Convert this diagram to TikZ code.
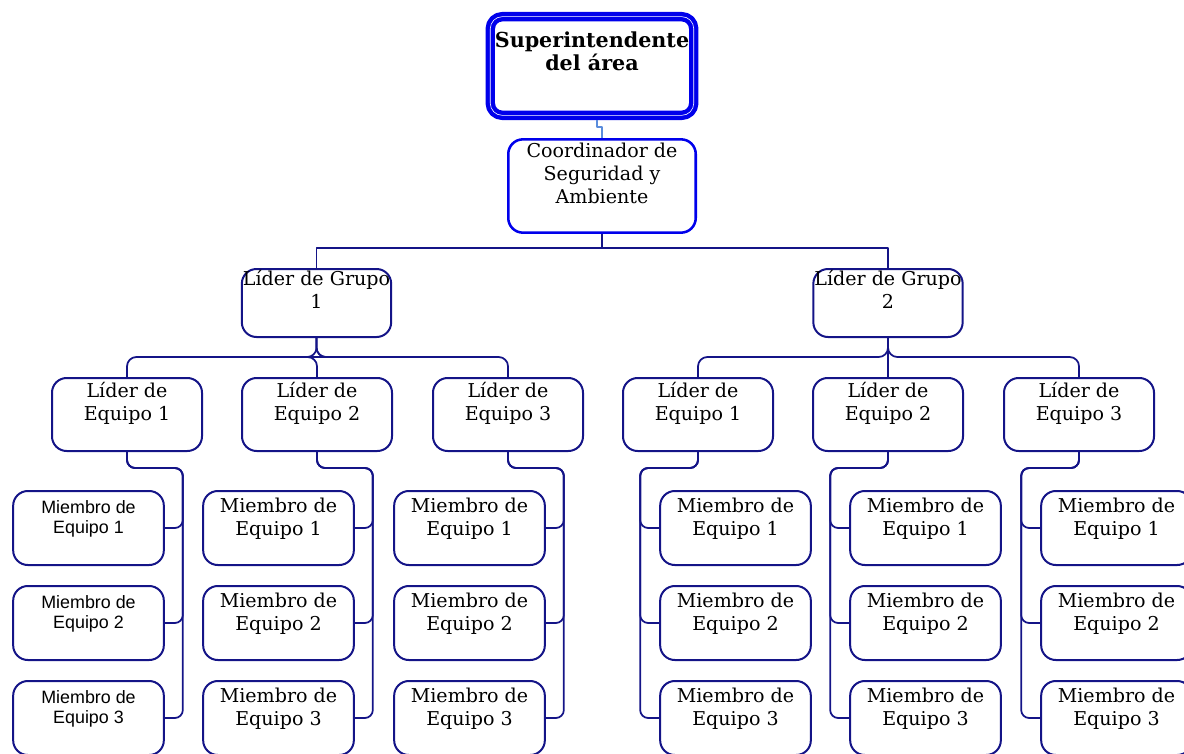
\documentclass[tikz,border=0pt]{standalone}
\usepackage{fontspec}
\setmainfont{DejaVu Serif}
\newfontfamily\arialfont{Liberation Sans}
\usetikzlibrary{positioning, calc}
\definecolor{navy}{RGB}{20,20,135}
\definecolor{topblue}{RGB}{0,0,235}
\definecolor{jogblue}{RGB}{90,140,220}

\begin{document}
\begin{tikzpicture}[x=0.75pt, y=-0.75pt, line join=round]
    \tikzstyle{txt}=[anchor=north, align=center, inner sep=3.5pt, font=\fontsize{14.3}{17.25}\selectfont]
    \tikzstyle{atxt}=[txt, font=\arialfont\fontsize{13.4}{15}\selectfont]
    \tikzstyle{box}=[draw=navy, line width=1.5pt, rounded corners=11pt]
    \tikzstyle{sup}=[draw=topblue, double=white, double distance=0.45pt, line width=3.3pt, outer sep=3.5pt, rounded corners=9pt, minimum width=152.6pt, minimum height=74pt]
    \tikzstyle{coord}=[box, draw=topblue, line width=1.9pt, minimum width=140.6pt, minimum height=70pt]
    \tikzstyle{grp}=[box, minimum width=112pt, minimum height=51pt]
    \tikzstyle{team}=[box, minimum width=112.5pt, minimum height=54.75pt]
    \tikzstyle{member}=[box, minimum width=113pt, minimum height=55.5pt]
    \tikzstyle{link}=[draw=navy, line width=1.3pt]
    \tikzstyle{jog}=[draw=jogblue, line width=0.9pt]

    \useasboundingbox (0,0) rectangle (1184,753);
    \clip (0,0) rectangle (1184,753);

    % top of the chart
    \node[sup, label={[txt, font=\bfseries\fontsize{15.5}{17.25}\selectfont, inner xsep=0pt, inner ysep=14.5pt]north:Superintendente\\del área}] (S) at (592,66) {};
    \node[coord, label={[txt]north:Coordinador de\\Seguridad y\\Ambiente}] (C) at (602,186) {};
    \draw[jog] ([xshift=3.7pt]S.south) -- ++(0,7) -| (C.north);

    % group leaders
    \foreach \g / \x in {1/316.5, 2/888}
    {
        \node[grp, label={[txt, inner sep=1.5pt]north:Líder de Grupo\\\g}] (G-\g) at (\x,303) {};
        \draw[link] (C.south) -- ++(0,14) -| (G-\g.north);
    }

    % team leaders
    \foreach \g / \t / \x in {1/1/127, 1/2/317, 1/3/508, 2/1/698, 2/2/888, 2/3/1079}
    {
        \node[team, label={[txt]north:Líder de\\Equipo \t}] (T-\g-\t) at (\x,414.5) {};
        \draw[link, rounded corners=7pt] (G-\g.south) -- ++(0,19) -| (T-\g-\t.north);
    }

    % members, group 1 (rail on the right)
    \foreach \t / \x / \f / \s in {1/88.5/atxt/7.5pt, 2/278.5/txt/6pt, 3/469.5/txt/6pt}
        \foreach \m / \y in {1/528, 2/623, 3/718}
        {
            \node[member, label={[\f, inner sep=\s]north:Miembro de\\Equipo \m}] (M-1-\t-\m) at (\x,\y) {};
            \draw[link, rounded corners=6pt] (T-1-\t.south) -- ++(0,16) -| ($(M-1-\t-\m.east)+(18,0)$) -- (M-1-\t-\m.east);
        }

    % members, group 2 (rail on the left)
    \foreach \t / \x in {1/735.5, 2/925.5, 3/1116.5}
        \foreach \m / \y in {1/528, 2/623, 3/718}
        {
            \node[member, label={[txt, inner sep=6pt]north:Miembro de\\Equipo \m}] (M-2-\t-\m) at (\x,\y) {};
            \draw[link, rounded corners=6pt] (T-2-\t.south) -- ++(0,16) -| ($(M-2-\t-\m.west)+(-19,0)$) -- (M-2-\t-\m.west);
        }
\end{tikzpicture}
\end{document}
